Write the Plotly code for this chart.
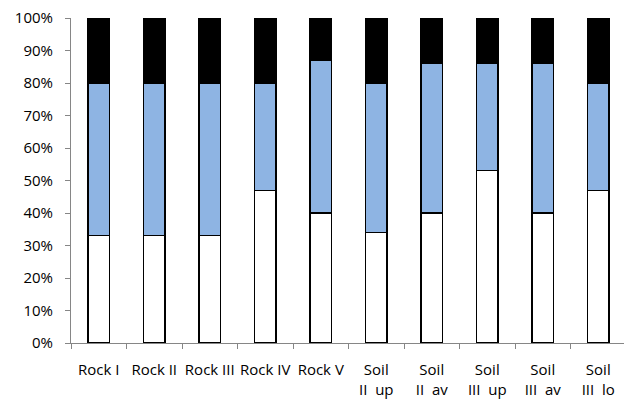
import plotly.graph_objects as go

categories = ["Rock I", "Rock II", "Rock III", "Rock IV", "Rock V",
              "Soil<br>II  up", "Soil<br>II  av", "Soil<br>III  up", "Soil<br>III  av", "Soil<br>III  lo"]
white_part = [33, 33, 33, 47, 40, 34, 40, 53, 40, 47]
blue_part = [47, 47, 47, 33, 47, 46, 46, 33, 46, 33]
black_part = [20, 20, 20, 20, 13, 20, 14, 14, 14, 20]
y_ticks = [0, 10, 20, 30, 40, 50, 60, 70, 80, 90, 100]

series = [
    ("white", white_part, "#FFFFFF"),
    ("blue", blue_part, "#8EB4E3"),
    ("black", black_part, "#000000"),
]

fig = go.Figure()
for name, vals, color in series:
    fig.add_trace(go.Bar(
        x=categories, y=vals, name=name,
        marker=dict(color=color, line=dict(color="#000000", width=1.2)),
        width=0.39,
    ))

axis_gray = "#868686"
# page body has an 8px default margin; figure sized to fit the 632x400 window
fig.update_layout(
    barmode="stack",
    width=624, height=392,
    margin=dict(l=63, r=6, t=10, b=57),
    paper_bgcolor="white", plot_bgcolor="white",
    showlegend=False,
    font=dict(family="Open Sans", size=15, color="#000000"),
    xaxis=dict(
        type="category", tickson="boundaries",
        ticks="outside", ticklen=5, tickcolor=axis_gray,
        showline=True, linecolor=axis_gray, linewidth=1,
        showgrid=False, tickangle=0, automargin=False,
        ticklabelstandoff=13, ticklabeloverflow="allow",
    ),
    yaxis=dict(
        range=[0, 100], tickvals=y_ticks, ticktext=[f"{v}%" for v in y_ticks],
        ticks="outside", ticklen=5, tickcolor=axis_gray,
        showline=True, linecolor=axis_gray, linewidth=1,
        showgrid=False, zeroline=False, automargin=False,
        ticklabelstandoff=9, ticklabeloverflow="allow",
    ),
)

fig.write_html("out.html")
